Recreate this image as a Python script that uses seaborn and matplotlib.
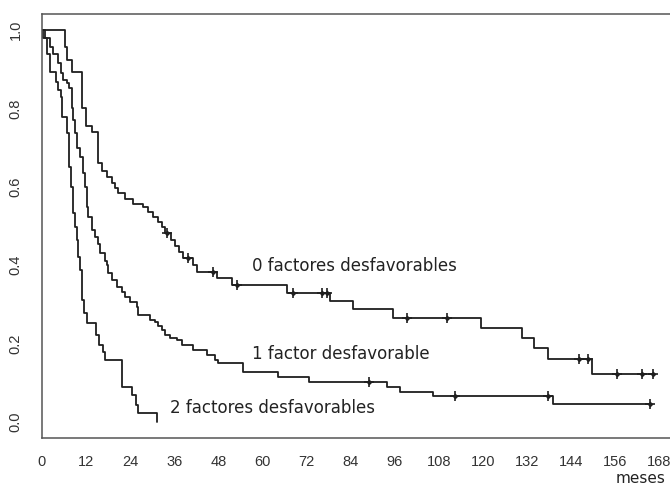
import numpy as np
import pandas as pd
import seaborn as sns
import matplotlib.pyplot as plt

# Kaplan-Meier survival by number of unfavourable factors (months)
times_0 = [0, 6.3, 6.8, 8.2, 10.9, 12.0, 13.6, 15.2, 16.3, 17.7, 19.1, 19.9, 20.7,
           22.6, 24.8, 27.5, 28.9, 30.2, 31.6, 32.7, 33.4, 35.0, 36.1, 37.2, 38.4,
           41.1, 42.2, 47.6, 51.7, 66.7, 78.4, 84.7, 95.6, 119.5, 130.7, 134.0,
           137.8, 149.7, 166.4]
surv_0 = [1.0, 0.957, 0.923, 0.893, 0.80, 0.755, 0.74, 0.66, 0.64, 0.625, 0.61,
          0.597, 0.584, 0.568, 0.556, 0.548, 0.536, 0.523, 0.51, 0.497, 0.482,
          0.465, 0.45, 0.434, 0.418, 0.40, 0.383, 0.367, 0.35, 0.33, 0.309, 0.288,
          0.266, 0.239, 0.214, 0.189, 0.161, 0.122, 0.122]
censor_0 = [34.0, 39.7, 46.6, 53.1, 68.3, 76.2, 77.6, 99.4, 110.3, 146.2, 148.7,
            156.5, 163.4, 166.4]

times_1 = [0, 0.8, 2.2, 3.0, 4.4, 5.2, 5.7, 6.8, 7.4, 8.2, 8.4, 9.0, 9.5, 10.3,
           11.2, 11.7, 12.3, 12.5, 13.6, 14.4, 15.2, 15.8, 17.2, 17.7, 18.0, 19.1,
           20.4, 21.8, 22.6, 24.0, 25.9, 26.1, 29.4, 30.8, 31.6, 32.7, 33.5, 34.8,
           36.8, 38.1, 41.1, 44.9, 47.1, 47.9, 54.7, 64.3, 72.7, 93.9, 97.5, 106.5,
           139.1, 165.5]
surv_1 = [1.0, 0.98, 0.957, 0.94, 0.916, 0.89, 0.872, 0.865, 0.852, 0.80, 0.77,
          0.737, 0.70, 0.676, 0.635, 0.60, 0.548, 0.523, 0.49, 0.472, 0.455, 0.431,
          0.41, 0.40, 0.38, 0.362, 0.344, 0.332, 0.319, 0.306, 0.293, 0.273, 0.26,
          0.255, 0.245, 0.235, 0.222, 0.214, 0.209, 0.196, 0.184, 0.17, 0.158,
          0.15, 0.128, 0.115, 0.102, 0.089, 0.077, 0.066, 0.046, 0.046]
censor_1 = [89.0, 112.4, 137.8, 165.5]

times_2 = [0, 0.3, 1.4, 2.2, 3.8, 4.4, 5.2, 5.5, 6.8, 7.4, 7.9, 8.4, 8.9, 9.5, 9.8,
           10.3, 10.9, 11.0, 11.4, 12.3, 14.7, 15.5, 16.6, 17.2, 21.8, 24.5, 25.6,
           26.1, 31.3]
surv_2 = [1.0, 0.98, 0.94, 0.893, 0.868, 0.847, 0.829, 0.778, 0.737, 0.65, 0.60,
          0.533, 0.498, 0.464, 0.42, 0.388, 0.337, 0.31, 0.278, 0.253, 0.222,
          0.196, 0.179, 0.158, 0.089, 0.069, 0.043, 0.023, 0.0]
censor_2 = []

group_labels = ["0 factores desfavorables", "1 factor desfavorable",
                "2 factores desfavorables"]
x_ticks = list(range(0, 169, 12))
y_ticks = [0.0, 0.2, 0.4, 0.6, 0.8, 1.0]

curves = [(times_0, surv_0, censor_0), (times_1, surv_1, censor_1),
          (times_2, surv_2, censor_2)]

rows, marks = [], []
for name, (t, s, c) in zip(group_labels, curves):
    rows.append(pd.DataFrame({"tiempo": t, "supervivencia": s, "grupo": name}))
    t_arr, s_arr = np.asarray(t), np.asarray(s)
    for tc in c:
        idx = np.searchsorted(t_arr, tc, side="right") - 1
        marks.append({"tiempo": tc, "supervivencia": s_arr[idx], "grupo": name})
km = pd.concat(rows, ignore_index=True)
cens = pd.DataFrame(marks)

sns.set_theme(style="white")
plt.rcParams["font.family"] = ["DejaVu Sans"]

fig = plt.figure(figsize=(6.7, 4.86), dpi=100)
ax = fig.add_axes([42 / 670, 48 / 486, 628 / 670, 424 / 486])

line_col = "#1f1f1f"
sns.lineplot(data=km, x="tiempo", y="supervivencia", hue="grupo",
             palette=[line_col] * 3, estimator=None, sort=False,
             drawstyle="steps-post", linewidth=1.3, legend=False, ax=ax)
sns.scatterplot(data=cens, x="tiempo", y="supervivencia", marker="+", s=55,
                color=line_col, linewidth=1.2, ax=ax, zorder=3)
sns.scatterplot(data=cens, x="tiempo", y="supervivencia", marker="D", s=9,
                color=line_col, linewidth=0, ax=ax, zorder=3)

ax.text(57.2, 0.398, group_labels[0], fontsize=12, color="#222222", va="center")
ax.text(57.2, 0.173, group_labels[1], fontsize=12, color="#222222", va="center")
ax.text(34.8, 0.036, group_labels[2], fontsize=12, color="#222222", va="center")

ax.set_xlim(0, 171)
ax.set_ylim(-0.0408, 1.0408)
ax.set_xticks(x_ticks)
ax.set_xticklabels([str(v) for v in x_ticks], family="Liberation Sans",
                   fontsize=10.5)
ax.set_yticks(y_ticks)
ax.set_yticklabels([f"{v:.1f}" for v in y_ticks], family="Liberation Sans",
                   fontsize=10.5, rotation=90, va="center")
ax.set_xlabel("")
ax.set_ylabel("")
ax.tick_params(axis="both", direction="out", length=5, width=1, color="#555555",
               labelcolor="#333333")
ax.tick_params(axis="x", pad=7)
ax.tick_params(axis="y", pad=9)
for side in ["top", "left", "bottom"]:
    ax.spines[side].set_visible(True)
    ax.spines[side].set_color("#555555")
    ax.spines[side].set_linewidth(1.1)
ax.spines["right"].set_visible(False)
ax.grid(False)

fig.text(616 / 670, 1 - 471 / 486, "meses", fontsize=11, color="#222222",
         va="top", ha="left")

fig.savefig("out.png", dpi=100)
